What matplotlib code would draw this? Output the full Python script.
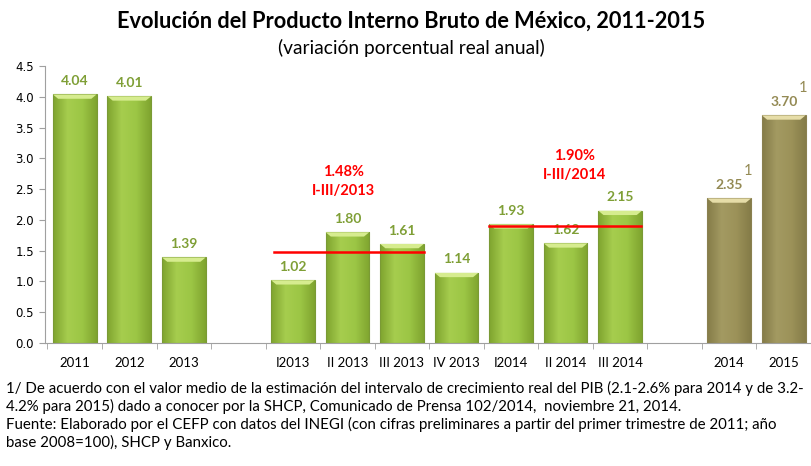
import matplotlib
matplotlib.use("Agg")
import matplotlib.pyplot as plt
import numpy as np
from matplotlib.colors import LinearSegmentedColormap

categories = ["2011", "2012", "2013", "", "I2013", "II 2013", "III 2013", "IV 2013",
              "I2014", "II 2014", "III 2014", "", "2014", "2015"]
values = [4.04, 4.01, 1.39, None, 1.02, 1.80, 1.61, 1.14, 1.93, 1.62, 2.15, None, 2.35, 3.70]
forecast = [False] * 12 + [True, True]
footnote_marks = ["", "", "", "", "", "", "", "", "", "", "", "", "1", "1"]
avg_2013 = 1.48
avg_2014 = 1.90
avg_labels = ["1.48%\nI-III/2013", "1.90%\nI-III/2014"]
yticks = [0.0, 0.5, 1.0, 1.5, 2.0, 2.5, 3.0, 3.5, 4.0, 4.5]

plt.rcParams['font.family'] = ['Lato', 'DejaVu Sans']

fig = plt.figure(figsize=(8.11, 4.66), dpi=100)
ax = fig.add_axes([45 / 811, 0.264, 1 - 45 / 811, 0.594])

x = np.arange(len(categories))
green_cmap = LinearSegmentedColormap.from_list("g", ["#7FA42F", "#A6CD4E", "#9CC645", "#7FA42F"])
olive_cmap = LinearSegmentedColormap.from_list("o", ["#857C48", "#A39A62", "#9C9259", "#857C48"])
grad = np.linspace(0, 1, 64).reshape(1, -1)

for i, v in enumerate(values):
    if v is None:
        continue
    is_f = forecast[i]
    edge = "#8A8050" if is_f else "#7A9A35"
    bars = ax.bar(x[i], v, width=0.8, color="none", edgecolor=edge, linewidth=0.8, zorder=3)
    r = bars[0]
    x0, w, h = r.get_x(), r.get_width(), r.get_height()
    im = ax.imshow(grad, cmap=olive_cmap if is_f else green_cmap, aspect="auto",
                   extent=[x0, x0 + w, 0, h], zorder=2)
    im.set_clip_path(r)
    ax.fill([x0, x0 + w, x0 + w * 0.88, x0 + w * 0.12], [h, h, h - 0.07, h - 0.07],
            color="#E6DDA8" if is_f else "#D6EC8F", zorder=4, lw=0)
    lc = "#948A54" if is_f else "#7F9F36"
    ax.text(x[i], v + 0.12, f"{v:.2f}", ha="center", va="bottom", fontsize=10,
            fontweight="bold", color=lc, zorder=5)
    if footnote_marks[i]:
        ax.text(x[i] + 0.27, v + 0.33, footnote_marks[i], ha="left", va="bottom",
                fontsize=10.5, color=lc, zorder=5)

ax.plot([3.65, 6.4], [avg_2013, avg_2013], color="#FF0000", lw=1.8, zorder=6)
ax.plot([7.59, 10.38], [avg_2014, avg_2014], color="#FF0000", lw=1.8, zorder=6)
ax.text(4.93, 2.36, avg_labels[0], ha="center", va="bottom", fontsize=10.5,
        fontweight="bold", color="#FF0000", linespacing=1.45)
ax.text(9.17, 2.62, avg_labels[1], ha="center", va="bottom", fontsize=10.5,
        fontweight="bold", color="#FF0000", linespacing=1.45)

ax.set_xlim(-0.545, 13.36)
ax.set_ylim(0, 4.5)
ax.set_yticks(yticks)
ax.set_yticklabels([f"{t:.1f}" for t in yticks], fontsize=8.5, family="DejaVu Sans")
ax.set_xticks(x)
ax.set_xticklabels(categories, fontsize=9.5)
ax.set_xticks(np.arange(-0.5, len(categories), 1.0), minor=True)
ax.tick_params(axis="x", which="major", length=0, pad=10)
ax.tick_params(axis="x", which="minor", length=4, color="#A0A0A0", direction="out")
ax.tick_params(axis="y", length=4, color="#A0A0A0", direction="out", pad=4)
for s in ["top", "right"]:
    ax.spines[s].set_visible(False)
for s in ["left", "bottom"]:
    ax.spines[s].set_color("#A0A0A0")
    ax.spines[s].set_linewidth(0.8)

fig.text(0.507, 0.955, "Evolución del Producto Interno Bruto de México, 2011-2015",
         ha="center", va="center", fontsize=15.7, fontweight="bold")
fig.text(0.507, 0.898, "(variación porcentual real anual)", ha="center", va="center", fontsize=13.8)

notes = [
    "1/ De acuerdo con el valor medio de la estimación del intervalo de crecimiento real del PIB (2.1-2.6% para 2014 y de 3.2-",
    "4.2% para 2015) dado a conocer por la SHCP, Comunicado de Prensa 102/2014,  noviembre 21, 2014.",
    "Fuente: Elaborado por el CEFP con datos del INEGI (con cifras preliminares a partir del primer trimestre de 2011; año",
    "base 2008=100), SHCP y Banxico.",
]
for k, line in enumerate(notes):
    fig.text(0.007, 1 - (388 + 18 * k) / 466, line, ha="left", va="center", fontsize=10.8)

fig.savefig("out.png", dpi=100)
